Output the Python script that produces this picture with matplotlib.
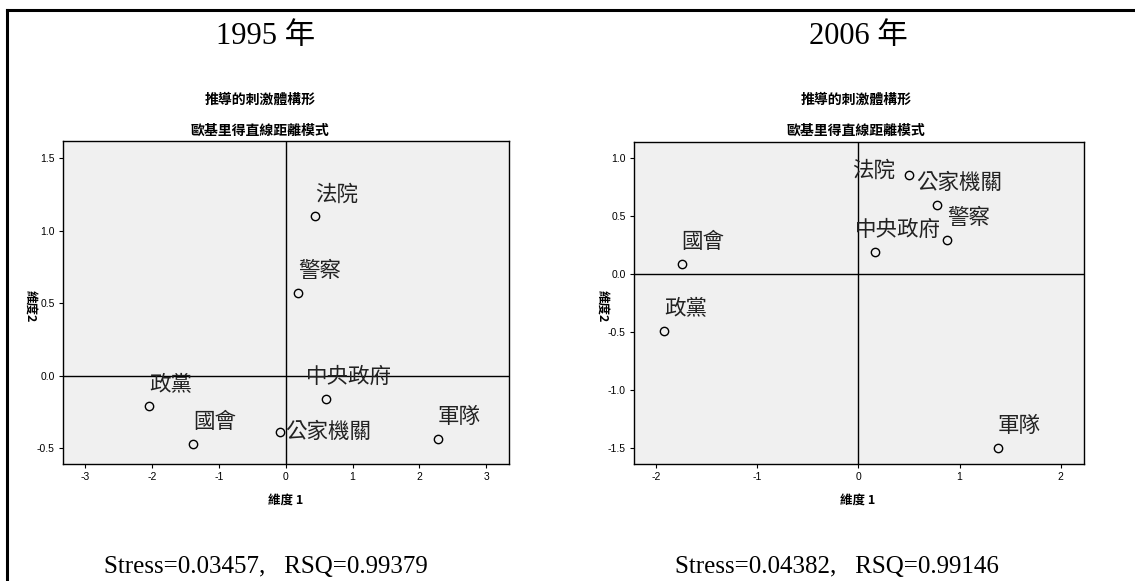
import matplotlib
matplotlib.use("Agg")
import matplotlib.pyplot as plt

# MDS stimulus configurations (dimension 1, dimension 2)
names_1995 = ["法院", "警察", "中央政府", "政黨", "國會", "公家機關", "軍隊"]
dim1_1995 = [0.44, 0.19, 0.60, -2.04, -1.38, -0.085, 2.28]
dim2_1995 = [1.10, 0.57, -0.16, -0.21, -0.47, -0.39, -0.44]

names_2006 = ["法院", "公家機關", "警察", "中央政府", "國會", "政黨", "軍隊"]
dim1_2006 = [0.50, 0.78, 0.88, 0.16, -1.75, -1.92, 1.38]
dim2_2006 = [0.85, 0.59, 0.29, 0.19, 0.08, -0.49, -1.50]

years = ["1995 年", "2006 年"]
fit_text = ["Stress=0.03457,   RSQ=0.99379", "Stress=0.04382,   RSQ=0.99146"]
xticks_1995 = [-3, -2, -1, 0, 1, 2, 3]
yticks_1995 = [-0.5, 0.0, 0.5, 1.0, 1.5]
xticks_2006 = [-2, -1, 0, 1, 2]
yticks_2006 = [-1.5, -1.0, -0.5, 0.0, 0.5, 1.0]

CJK = ["Noto Sans CJK TC", "DejaVu Sans"]
SERIF = ["Liberation Serif", "Noto Sans CJK TC"]
SANS = ["Liberation Sans", "DejaVu Sans"]

# label offsets in pixels from the point: dx, dy, ha, va
default_place = (0, 11, "left", "bottom")
place_1995 = {"中央政府": (-20, 11, "left", "bottom"),
              "公家機關": (5, 0, "left", "center")}
place_2006 = {"法院": (-14, 4, "right", "center"),
              "公家機關": (-21, 11, "left", "bottom"),
              "中央政府": (-20, 11, "left", "bottom")}

W, H = 1135, 581
fig = plt.figure(figsize=(W / 100, H / 100), dpi=100)


def fx(px):
    return px / W


def fy(py):
    return 1 - py / H


# frame lines along the top and left edge
fig.add_artist(plt.Line2D([fx(7), 1], [fy(10), fy(10)], color="black", lw=2.2))
fig.add_artist(plt.Line2D([fx(7), fx(7)], [fy(10), 0], color="black", lw=2.2))

panels = [
    dict(rect=[fx(63), fy(464), fx(509 - 63), (464 - 141) / H],
         xs=dim1_1995, ys=dim2_1995, names=names_1995, place=place_1995,
         xlim=(-3.33, 3.34), ylim=(-0.61, 1.62),
         xticks=xticks_1995, yticks=yticks_1995,
         title_x=266, sub_x=260, ylab_x=30, xlab_x=286, fit_x=266),
    dict(rect=[fx(634), fy(464), fx(1084 - 634), (464 - 141.5) / H],
         xs=dim1_2006, ys=dim2_2006, names=names_2006, place=place_2006,
         xlim=(-2.22, 2.23), ylim=(-1.64, 1.14),
         xticks=xticks_2006, yticks=yticks_2006,
         title_x=858, sub_x=856, ylab_x=602, xlab_x=858, fit_x=837),
]

for i, p in enumerate(panels):
    ax = fig.add_axes(p["rect"])
    ax.set_facecolor("#f0f0f0")
    ax.set_xlim(*p["xlim"])
    ax.set_ylim(*p["ylim"])
    ax.axhline(0, color="black", lw=1, zorder=1)
    ax.axvline(0, color="black", lw=1, zorder=1)
    ax.plot(p["xs"], p["ys"], "o", ms=6, mfc="none", mec="black", mew=1, zorder=3)
    for name, x, y in zip(p["names"], p["xs"], p["ys"]):
        dx, dy, ha, va = p["place"].get(name, default_place)
        ax.annotate(name, (x, y), xytext=(dx * 0.72, dy * 0.72),
                    textcoords="offset points", ha=ha, va=va,
                    fontsize=15.5, family=CJK, color="#222222", zorder=4)
    ax.set_xticks(p["xticks"])
    ax.set_yticks(p["yticks"])
    ax.set_xticklabels([f"{t:g}" for t in p["xticks"]], family=SANS, fontsize=7.5)
    ax.set_yticklabels([f"{t:.1f}" for t in p["yticks"]], family=SANS, fontsize=7.5)
    ax.tick_params(length=3, width=0.8, pad=3, colors="black")
    for s in ax.spines.values():
        s.set_linewidth(1)

    fig.text(fx(p["title_x"]), fy(37), years[i], ha="center", va="center",
             fontsize=22, family=SERIF)
    fig.text(fx(p["sub_x"]), fy(100), "推導的刺激體構形", ha="center", va="center",
             fontsize=10, family=CJK, weight="bold")
    fig.text(fx(p["sub_x"]), fy(131), "歐基里得直線距離模式", ha="center", va="center",
             fontsize=10, family=CJK, weight="bold")
    fig.text(fx(p["ylab_x"]), fy(306), "維度2", ha="center", va="center",
             rotation=270, fontsize=9, family=CJK, weight="bold")
    fig.text(fx(p["xlab_x"]), fy(500), "維度 1", ha="center", va="center",
             fontsize=9, family=CJK, weight="bold")
    fig.text(fx(p["fit_x"]), fy(567), fit_text[i], ha="center", va="center",
             fontsize=18, family=SERIF)

fig.savefig("out.png", dpi=100)
